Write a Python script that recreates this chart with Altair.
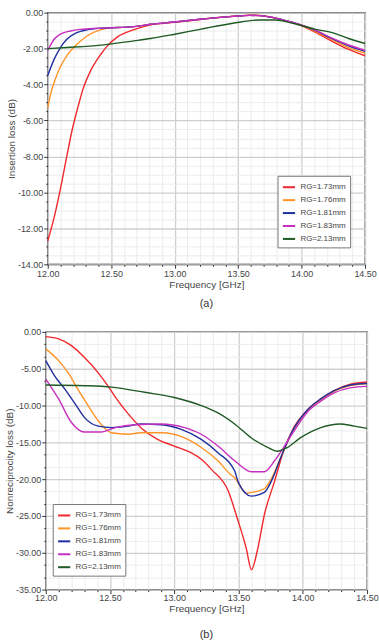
import altair as alt
import pandas as pd

SERIES = ["RG=1.73mm", "RG=1.76mm", "RG=1.81mm", "RG=1.83mm", "RG=2.13mm"]
COLORS = ["#f0282d", "#ff9326", "#1e2f9e", "#c72fc0", "#1f5a23"]
FONT = "Liberation Sans"

# ---------------- (a) Insertion loss ----------------
a_f_173 = [12.00, 12.05, 12.10, 12.15, 12.19, 12.24, 12.28, 12.34, 12.42, 12.47, 12.55, 12.68,
           12.81, 13.00, 13.20, 13.46, 13.59, 13.72, 13.85, 13.98, 14.11, 14.24, 14.37, 14.50]
a_v_173 = [-12.7, -11.4, -9.8, -8.0, -6.6, -5.2, -4.2, -3.2, -2.3, -1.85, -1.35, -0.95,
           -0.68, -0.54, -0.38, -0.20, -0.14, -0.20, -0.40, -0.68, -1.10, -1.60, -2.05, -2.40]
a_f_176 = [12.00, 12.02, 12.06, 12.10, 12.15, 12.23, 12.31, 12.42, 12.49, 12.55, 12.68, 12.81,
           13.00, 13.20, 13.46, 13.59, 13.72, 13.85, 13.98, 14.11, 14.24, 14.37, 14.50]
a_v_176 = [-5.3, -4.6, -3.7, -3.0, -2.4, -1.76, -1.3, -0.95, -0.85, -0.83, -0.78, -0.65,
           -0.52, -0.37, -0.21, -0.15, -0.21, -0.40, -0.66, -1.05, -1.50, -1.95, -2.25]
a_f_181 = [12.00, 12.05, 12.10, 12.15, 12.23, 12.31, 12.42, 12.55, 12.68, 12.81,
           13.00, 13.20, 13.46, 13.59, 13.72, 13.85, 13.98, 14.11, 14.24, 14.37, 14.50]
a_v_181 = [-3.5, -2.6, -1.94, -1.48, -1.11, -0.96, -0.87, -0.83, -0.78, -0.65,
           -0.52, -0.37, -0.21, -0.15, -0.21, -0.40, -0.65, -1.00, -1.45, -1.85, -2.15]
a_f_183 = [12.00, 12.05, 12.10, 12.18, 12.26, 12.39, 12.55, 12.68, 12.81,
           13.00, 13.20, 13.46, 13.59, 13.72, 13.85, 13.98, 14.11, 14.24, 14.37, 14.50]
a_v_183 = [-2.1, -1.48, -1.2, -1.02, -0.93, -0.87, -0.83, -0.78, -0.65,
           -0.52, -0.37, -0.21, -0.15, -0.21, -0.40, -0.64, -0.98, -1.42, -1.80, -2.10]
a_f_213 = [12.00, 12.15, 12.42, 12.68, 12.81, 13.00, 13.20, 13.46, 13.67, 13.80, 13.93,
           14.11, 14.24, 14.37, 14.50]
a_v_213 = [-2.0, -1.94, -1.81, -1.57, -1.44, -1.2, -0.93, -0.59, -0.41, -0.41, -0.59,
           -0.93, -1.11, -1.44, -1.72]

# ---------------- (b) Nonreciprocity loss ----------------
b_f_173 = [12.00, 12.10, 12.20, 12.30, 12.41, 12.49, 12.56, 12.64, 12.74, 12.87, 13.00, 13.13,
           13.21, 13.29, 13.42, 13.49, 13.56, 13.60, 13.65, 13.70, 13.78, 13.85, 13.93, 14.03,
           14.14, 14.24, 14.37, 14.50]
b_v_173 = [-0.64, -0.95, -1.86, -3.45, -5.6, -7.5, -9.3, -11.1, -13.0, -14.6, -15.5, -16.4,
           -17.3, -18.7, -21.6, -25.3, -29.4, -32.3, -29.4, -24.9, -20.3, -16.2, -13.0, -10.7,
           -9.1, -8.0, -7.1, -6.8]
b_f_176 = [12.00, 12.10, 12.18, 12.25, 12.33, 12.41, 12.51, 12.64, 12.74, 12.90, 13.08, 13.21,
           13.34, 13.44, 13.47, 13.56, 13.60, 13.70, 13.76, 13.83, 13.93, 14.03, 14.14, 14.24,
           14.37, 14.50]
b_v_176 = [-2.3, -3.9, -5.7, -7.8, -10.0, -12.1, -13.7, -13.9, -13.7, -13.7, -14.4, -15.7,
           -17.5, -19.4, -19.8, -21.9, -21.8, -21.3, -19.8, -17.0, -13.2, -10.8, -9.2, -8.1,
           -7.3, -7.0]
b_f_181 = [12.00, 12.07, 12.15, 12.23, 12.30, 12.41, 12.51, 12.64, 12.74, 12.90, 13.05, 13.21,
           13.34, 13.47, 13.50, 13.60, 13.70, 13.76, 13.83, 13.93, 14.03, 14.14, 14.24, 14.37,
           14.50]
b_v_181 = [-3.9, -6.0, -7.8, -9.8, -11.6, -12.8, -13.0, -12.8, -12.5, -12.6, -13.2, -14.6,
           -16.4, -18.9, -20.5, -22.3, -21.8, -20.1, -17.0, -13.1, -10.7, -9.1, -8.0, -7.2,
           -7.0]
b_f_183 = [12.00, 12.10, 12.20, 12.30, 12.43, 12.54, 12.69, 12.90, 13.08, 13.21, 13.34, 13.47,
           13.60, 13.70, 13.78, 13.85, 13.93, 14.03, 14.14, 14.24, 14.37, 14.50]
b_v_183 = [-6.4, -9.1, -12.3, -13.6, -13.6, -13.0, -12.6, -12.5, -13.0, -13.9, -15.5, -17.5,
           -19.0, -19.0, -17.5, -15.7, -13.5, -11.0, -9.4, -8.3, -7.6, -7.4]
b_f_213 = [12.00, 12.30, 12.51, 12.77, 13.00, 13.21, 13.34, 13.47, 13.60, 13.73, 13.80, 13.88,
           13.98, 14.14, 14.29, 14.40, 14.50]
b_v_213 = [-7.2, -7.3, -7.5, -8.2, -8.9, -10.0, -11.0, -12.5, -14.4, -15.7, -16.2, -15.7,
           -14.4, -13.0, -12.5, -12.8, -13.1]

# axis tick values (major + minor)
X_TICKS = [round(12.0 + 0.1 * i, 2) for i in range(26)]
YA_TICKS = [-0.5 * i for i in range(29)]
YB_TICKS = [-5.0 * i / 3.0 for i in range(22)]


def frame(pairs):
    rows = []
    for name, (fs, vs) in zip(SERIES, pairs):
        for f, v in zip(fs, vs):
            rows.append({"series": name, "freq": f, "val": v})
    return pd.DataFrame(rows)


df_a = frame([(a_f_173, a_v_173), (a_f_176, a_v_176), (a_f_181, a_v_181),
              (a_f_183, a_v_183), (a_f_213, a_v_213)])
df_b = frame([(b_f_173, b_v_173), (b_f_176, b_v_176), (b_f_181, b_v_181),
              (b_f_183, b_v_183), (b_f_213, b_v_213)])

FMT = "replace(format(datum.value, '.2f'), '\u2212', '-')"


def axis(values, major_test, title, label_pad, title_pad):
    return alt.Axis(
        values=values,
        title=title,
        labelExpr=f"({major_test}) ? {FMT} : ''",
        labelFont=FONT, labelFontSize=9, labelColor="#444",
        labelFlush=False, labelOverlap=False, labelBound=False,
        labelPadding=label_pad,
        titleFont=FONT, titleFontSize=10, titleFontWeight="normal", titleColor="#444",
        titlePadding=title_pad,
        domain=False,
        ticks=True, tickColor="#333",
        tickSize={"condition": {"test": major_test, "value": 4}, "value": 2},
        grid=True,
        gridColor={"condition": {"test": major_test, "value": "#cfcfcf"}, "value": "#ececec"},
        gridWidth={"condition": {"test": major_test, "value": 1.3}, "value": 1},
    )


X_MAJOR = "abs(datum.value*2 - round(datum.value*2)) < 0.001"
YA_MAJOR = "abs(datum.value/2 - round(datum.value/2)) < 0.001"
YB_MAJOR = "abs(datum.value/5 - round(datum.value/5)) < 0.001"


def panel(df, yticks, ymajor, ymin, ytitle, w, h, lx, ly, caption, cap_off, xlab_pad):
    legend = alt.Legend(
        orient="none", legendX=lx, legendY=ly, title=None,
        symbolType="stroke", symbolStrokeWidth=2, symbolSize=150,
        labelFont=FONT, labelFontSize=8, labelColor="#444",
        strokeColor="#777", fillColor="white", padding=4, rowPadding=1,
    )
    return alt.Chart(df).mark_line(strokeWidth=1.4, interpolate="monotone").encode(
        x=alt.X("freq:Q", scale=alt.Scale(domain=[12.0, 14.5], nice=False, zero=False),
                axis=axis(X_TICKS, X_MAJOR, "Frequency [GHz]", xlab_pad, 1)),
        y=alt.Y("val:Q", scale=alt.Scale(domain=[ymin, 0], nice=False, zero=False),
                axis=axis(yticks, ymajor, ytitle, 1, 1)),
        color=alt.Color("series:N", scale=alt.Scale(domain=SERIES, range=COLORS), legend=legend),
    ).properties(
        width=w, height=h,
        title=alt.TitleParams(caption, orient="bottom", anchor="middle", font=FONT,
                              fontSize=11, fontWeight="normal", color="#333", offset=cap_off),
    )


top = panel(df_a, YA_TICKS, YA_MAJOR, -14, "Insertion loss (dB)", 319, 253,
            231, 164, "(a)", 9, 1)
bottom = panel(df_b, YB_TICKS, YB_MAJOR, -35, "Nonreciprocity loss (dB)", 323, 259,
               7, 173, "(b)", 16, 0)

chart = alt.vconcat(top, bottom, spacing=68, bounds="flush", center=True).resolve_scale(
    color="independent"
).resolve_legend(color="independent").properties(
    padding={"left": 3, "top": 6, "right": 0, "bottom": 0},
    background="white",
).configure_view(stroke="#111", strokeWidth=1.3)

chart.save("out.html", embed_options={"renderer": "svg", "actions": False})
